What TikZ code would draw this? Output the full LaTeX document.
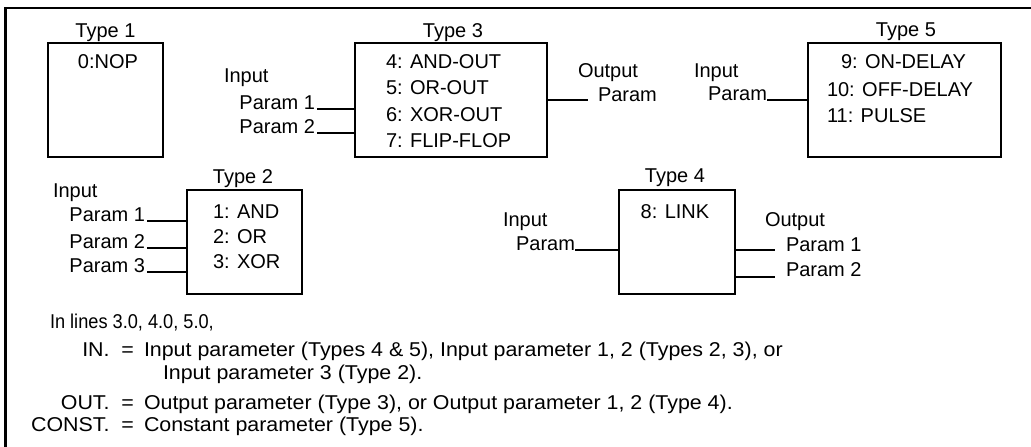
\documentclass[tikz,border=0pt]{standalone}
\usepackage{fontspec}
\usepackage{graphicx}
\setmainfont{Liberation Sans}
\newfontfamily\notefont[FakeStretch=1.07]{Liberation Sans}
\begin{document}
\begin{tikzpicture}[x=1pt,y=-1pt,
  every node/.style={inner sep=0pt,outer sep=0pt,font=\fontsize{20}{24}\selectfont},
  blk/.style={draw,line width=2.2pt},
  wire/.style={line width=2.2pt},
  frame/.style={line width=2.5pt},
  note/.style={font=\notefont\fontsize{20}{24}\selectfont}]
\useasboundingbox (0,0) rectangle (1031,447);
% frame
\coordinate (fbl) at (5.5,447);
\coordinate (ftl) at (5.5,8);
\coordinate (ftr) at (1031,8);
\draw[frame] (fbl) -- (ftl) -- (ftr);
% boxes
\node[blk,minimum width=115pt,minimum height=114pt] (t1) at (105.5,100) {};
\node[blk,minimum width=192pt,minimum height=114pt] (t3) at (451,100) {};
\node[blk,minimum width=193pt,minimum height=114pt] (t5) at (904.5,100) {};
\node[blk,minimum width=115pt,minimum height=104pt] (t2) at (244.5,242) {};
\node[blk,minimum width=116pt,minimum height=104pt] (t4) at (677,242) {};
% type labels
\node[anchor=base] (l1) at (105.5,37) {Type 1};
\node[anchor=base] (l3) at (453,37) {Type 3};
\node[anchor=base] (l5) at (906,36) {Type 5};
\node[anchor=base] (l2) at (243,183) {Type 2};
\node[anchor=base] (l4) at (675,182) {Type 4};
% box contents
\node[anchor=base] (n0) at (108,68) {0:NOP};
\node[anchor=base west] (n4) at (386,68) {4: AND-OUT};
\node[anchor=base west] (n5) at (386,94.5) {5: OR-OUT};
\node[anchor=base west] (n6) at (386,121) {6: XOR-OUT};
\node[anchor=base west] (n7) at (386,147.5) {7: FLIP-FLOP};
\node[anchor=base west] (n9) at (841,68) {9: ON-DELAY};
\node[anchor=base west] (n10) at (827,96) {10: OFF-DELAY};
\node[anchor=base west] (n11) at (827,122) {11: PULSE};
\node[anchor=base west] (n1) at (213,218) {1: AND};
\node[anchor=base west] (n2) at (213,243) {2: OR};
\node[anchor=base west] (n3) at (213,268) {3: XOR};
\node[anchor=base] (n8) at (675,218) {8: LINK};
% Type 3 ports
\node[anchor=base west] (t3in) at (224,82) {Input};
\node[anchor=base east] (t3p1) at (315,109) {Param 1};
\node[anchor=base east] (t3p2) at (315,133) {Param 2};
\draw[wire] (t3p1.base east) ++(2,0) coordinate (a1) -- (a1 -| t3.west);
\draw[wire] (t3p2.base east) ++(2,0) coordinate (a2) -- (a2 -| t3.west);
\node[anchor=base west] (t3out) at (578,77) {Output};
\node[anchor=base west] (t3op) at (598,101) {Param};
\coordinate (t3oe) at (588,100);
\draw[wire] (t3.east |- t3oe) -- (t3oe);
% Type 5 port
\node[anchor=base west] (t5in) at (694,77) {Input};
\node[anchor=base east] (t5p) at (767,100) {Param};
\draw[wire] (t5p.base east) -- (t5p.base east -| t5.west);
% Type 2 ports
\node[anchor=base west] (t2in) at (53,197) {Input};
\node[anchor=base east] (t2p1) at (145,221) {Param 1};
\node[anchor=base east] (t2p2) at (145,248) {Param 2};
\node[anchor=base east] (t2p3) at (145,272) {Param 3};
\draw[wire] (t2p1.base east) ++(2,0) coordinate (b1) -- (b1 -| t2.west);
\draw[wire] (t2p2.base east) ++(2,0) coordinate (b2) -- (b2 -| t2.west);
\draw[wire] (t2p3.base east) ++(2,0) coordinate (b3) -- (b3 -| t2.west);
% Type 4 ports
\node[anchor=base west] (t4in) at (503,226) {Input};
\node[anchor=base east] (t4p) at (575,250) {Param};
\draw[wire] (t4p.base east) -- (t4p.base east -| t4.west);
\node[anchor=base west] (t4out) at (765,226) {Output};
\node[anchor=base west] (t4o1) at (786,251) {Param 1};
\node[anchor=base west] (t4o2) at (786,276) {Param 2};
\coordinate (c1) at (775,250);
\coordinate (c2) at (775,277);
\draw[wire] (t4.east |- c1) -- (c1);
\draw[wire] (t4.east |- c2) -- (c2);
% notes
\node[note,anchor=base west] (m0) at (50,328) {\scalebox{0.85}[1]{In lines 3.0, 4.0, 5.0,}};
\node[note,anchor=base east] (m1k) at (134,356) {IN.\ \ =};
\node[note,anchor=base west] (m1) at (144,356) {Input parameter (Types 4 \& 5), Input parameter 1, 2 (Types 2, 3), or};
\node[note,anchor=base west] (m2) at (163,379) {Input parameter 3 (Type 2).};
\node[note,anchor=base east] (m3k) at (134,409) {OUT.\ \ =};
\node[note,anchor=base west] (m3) at (144,409) {Output parameter (Type 3), or Output parameter 1, 2 (Type 4).};
\node[note,anchor=base east] (m4k) at (134,431) {CONST.\ \ =};
\node[note,anchor=base west] (m4) at (144,431) {Constant parameter (Type 5).};
\end{tikzpicture}
\end{document}
